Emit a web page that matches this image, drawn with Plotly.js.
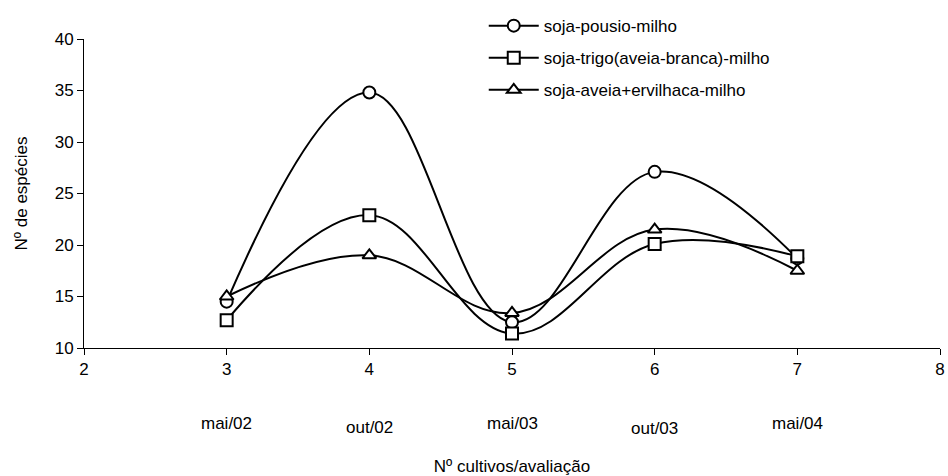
<!DOCTYPE html>
<html>
<head>
<meta charset="utf-8">
<script src="https://cdn.plot.ly/plotly-3.0.1.min.js"></script>
<style>html,body{margin:0;padding:0;background:#fff}#chart{width:948px;height:476px}</style>
</head>
<body>
<div id="chart"></div>
<script>
const xValues = [3, 4, 5, 6, 7];
const periodLabels = ["mai/02", "out/02", "mai/03", "out/03", "mai/04"];
const seriesNames = ["soja-pousio-milho", "soja-trigo(aveia-branca)-milho", "soja-aveia+ervilhaca-milho"];
const pousio = [14.5, 34.8, 12.5, 27.1, 18.7];
const trigo = [12.7, 22.9, 11.4, 20.1, 18.9];
const ervilhaca = [15.0, 19.0, 13.4, 21.5, 17.5];
const symbols = ["circle", "square", "triangle-up"];

const allSeries = [pousio, trigo, ervilhaca];
const traces = allSeries.map((ys, i) => ({
  x: xValues, y: ys, name: seriesNames[i], type: "scatter", mode: "lines+markers",
  legendgroup: "g" + i,
  line: {color: "#000", width: 2, shape: "spline", smoothing: 1.1},
  marker: {symbol: symbols[i], size: 12, color: "#fff", line: {color: "#000", width: 2}}
}));

const font = {family: "Liberation Sans, Arial, sans-serif", size: 17, color: "#000"};
const labelOffsets = [0, 4, 0, 5, 0];
const annotations = periodLabels.map((t, i) => ({
  x: xValues[i], y: 0, xref: "x", yref: "paper", yanchor: "top", showarrow: false,
  yshift: -64 - labelOffsets[i], text: t, font: font
}));

const layout = {
  width: 948, height: 476,
  margin: {l: 84, r: 8, t: 36, b: 128},
  paper_bgcolor: "#fff", plot_bgcolor: "#fff",
  font: font,
  showlegend: true,
  legend: {x: 0.467, y: 1.1, xanchor: "left", yanchor: "top", bgcolor: "rgba(0,0,0,0)",
           font: font, traceorder: "grouped", tracegroupgap: 7, itemwidth: 50},
  xaxis: {range: [2, 8], dtick: 1, tick0: 2, showgrid: false, zeroline: false,
          showline: true, linecolor: "#000", linewidth: 1, ticks: "outside", ticklen: 6,
          tickcolor: "#000", tickfont: font,
          title: {text: "Nº cultivos/avaliação", font: font, standoff: 82}},
  yaxis: {range: [10, 40], dtick: 5, showgrid: false, zeroline: false,
          showline: true, linecolor: "#000", linewidth: 1, ticks: "outside", ticklen: 6,
          tickcolor: "#000", tickfont: font,
          title: {text: "Nº de espécies", font: font, standoff: 22}},
  annotations: annotations
};

Plotly.newPlot("chart", traces, layout, {displayModeBar: false, staticPlot: true});
</script>
</body>
</html>
